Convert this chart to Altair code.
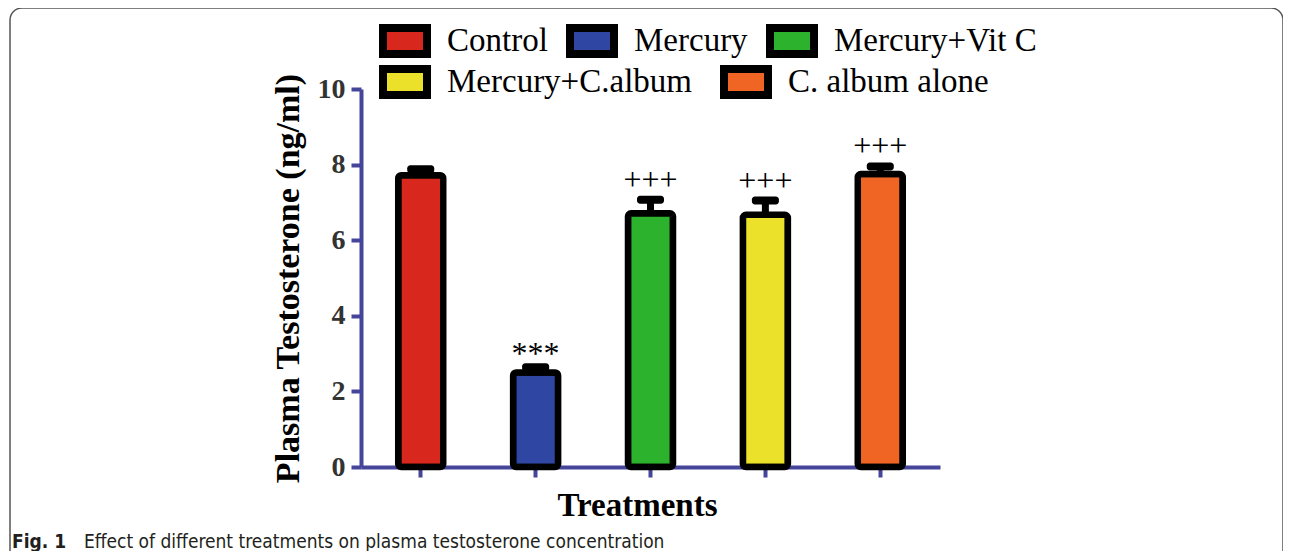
import altair as alt
import pandas as pd

# ---- data ----
treatments = ["Control", "Mercury", "Mercury+Vit C", "Mercury+C.album", "C. album alone"]
means = [7.72, 2.50, 6.71, 6.67, 7.75]
errors = [0.16, 0.14, 0.36, 0.38, 0.20]
sig_marks = ["", "***", "+++", "+++", "+++"]
colors = ["#d8281e", "#2f46a3", "#2cb22c", "#ebe02a", "#f06424"]
y_ticks = [0, 2, 4, 6, 8, 10]
caption_bold = ["Fig. 1"]
caption_text = ["Effect of different treatments on plasma testosterone concentration"]

df = pd.DataFrame({"Treatment": treatments, "Mean": means, "Err": errors, "Sig": sig_marks})
df["Top"] = df["Mean"] + df["Err"]

AXIS_COLOR = "#45459a"
SERIF = "Liberation Serif"
CAP_FONT = "DejaVu Sans Condensed, Liberation Sans, sans-serif"

x_scale = alt.Scale(domain=treatments, paddingInner=0, paddingOuter=0.02)
x_axis = alt.Axis(
    title="Treatments", labels=False, ticks=True, tickSize=10, tickWidth=4,
    tickColor=AXIS_COLOR, domainColor=AXIS_COLOR, domainWidth=4,
    titleFont=SERIF, titleFontSize=33, titleFontWeight="bold", titleColor="black",
    titlePadding=10, titleX=276,
)

y_scale = alt.Scale(domain=[0, 10], nice=False)
y_axis = alt.Axis(
    title="Plasma Testosterone (ng/ml)", values=y_ticks, grid=False,
    tickSize=10, tickWidth=4, tickColor=AXIS_COLOR, domainColor=AXIS_COLOR, domainWidth=4,
    labelFont=SERIF, labelFontSize=28, labelFontWeight="bold", labelColor="#333333",
    labelPadding=6,
    titleFont=SERIF, titleFontSize=34, titleFontWeight="bold", titleColor="black",
    titlePadding=12,
)


def legend(x, y, col_pad):
    return alt.Legend(
        title=None, orient="none", legendX=x, legendY=y, direction="horizontal",
        columnPadding=col_pad,
        symbolType="M-1,-0.59H1V0.59H-1Z", symbolSize=1936,
        symbolStrokeColor="black", symbolStrokeWidth=8, symbolOpacity=1,
        labelFont=SERIF, labelFontSize=33, labelColor="black", labelLimit=400,
        labelOffset=16,
    )


def bar_layer(domain, rng, leg):
    return alt.Chart(df).transform_filter(
        alt.FieldOneOfPredicate(field="Treatment", oneOf=domain)
    ).mark_bar(
        size=45, stroke="black", strokeWidth=6.5, cornerRadius=3
    ).encode(
        x=alt.X("Treatment:N", scale=x_scale, axis=x_axis),
        y=alt.Y("Mean:Q", scale=y_scale, axis=y_axis),
        fill=alt.Fill("Treatment:N", scale=alt.Scale(domain=domain, range=rng), legend=leg),
    )


bars_a = bar_layer(treatments[:3], colors[:3], legend(18, -74, 6))
bars_b = bar_layer(treatments[3:], colors[3:], legend(18, -33, 16))

stems = alt.Chart(df).mark_rule(color="black", strokeWidth=7, opacity=1).encode(
    x=alt.X("Treatment:N", scale=x_scale, axis=x_axis),
    y=alt.Y("Mean:Q", scale=y_scale, axis=y_axis),
    y2="Top:Q",
)

caps = alt.Chart(df).mark_tick(
    color="black", orient="horizontal", size=27, thickness=8, cornerRadius=3, opacity=1
).encode(
    x=alt.X("Treatment:N", scale=x_scale, axis=x_axis),
    y=alt.Y("Top:Q", scale=y_scale, axis=y_axis),
)

plus = alt.Chart(df).transform_filter(alt.datum.Sig == "+++").mark_text(
    font=SERIF, fontSize=32, color="black", baseline="middle", dy=-20
).encode(
    x=alt.X("Treatment:N", scale=x_scale, axis=x_axis),
    y=alt.Y("Top:Q", scale=y_scale, axis=y_axis),
    text="Sig:N",
)
stars = alt.Chart(df).transform_filter(alt.datum.Sig == "***").mark_text(
    font=SERIF, fontSize=32, color="black", baseline="middle", dy=-13
).encode(
    x=alt.X("Treatment:N", scale=x_scale, axis=x_axis),
    y=alt.Y("Top:Q", scale=y_scale, axis=y_axis),
    text="Sig:N",
)

cap_df = pd.DataFrame({"bold": caption_bold, "text": caption_text})
cap_bold = alt.Chart(cap_df).mark_text(
    font=CAP_FONT, fontSize=19, fontWeight="bold", color="#231f20",
    align="left", baseline="alphabetic"
).encode(x=alt.value(-349), y=alt.value(459), text="bold:N")
cap_text = alt.Chart(cap_df).mark_text(
    font=CAP_FONT, fontSize=19, color="#231f20",
    align="left", baseline="alphabetic"
).encode(x=alt.value(-277), y=alt.value(459), text="text:N")

border = alt.Chart(cap_df).mark_rect(
    fillOpacity=0, stroke="#555555", strokeWidth=1.5, cornerRadius=12
).encode(x=alt.value(-351), x2=alt.value(922), y=alt.value(-81), y2=alt.value(500))

chart = alt.layer(
    bars_a, bars_b, stems, caps, plus, stars, border, cap_bold, cap_text
).resolve_scale(fill="independent").resolve_legend(fill="independent").properties(
    width=579, height=378,
    padding={"left": 353, "top": 81, "right": 343, "bottom": 84},
    autosize=alt.AutoSizeParams(type="none"),
).configure_view(stroke=None)

chart.save("out.html", embed_options={"renderer": "svg", "actions": False})
